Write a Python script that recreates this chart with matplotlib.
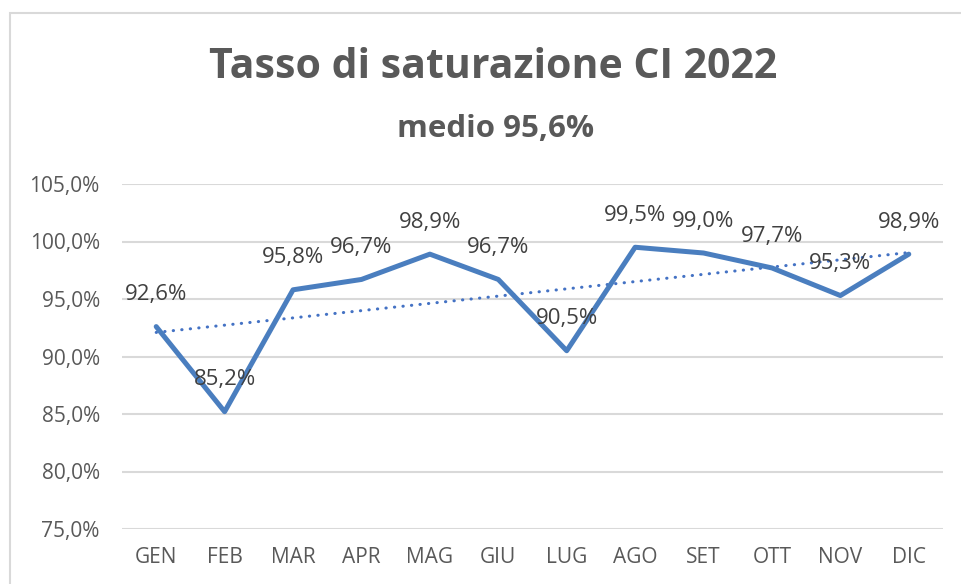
import matplotlib.pyplot as plt
from matplotlib.patches import Rectangle
from matplotlib.ticker import FuncFormatter, MultipleLocator
import numpy as np

months = ["GEN", "FEB", "MAR", "APR", "MAG", "GIU", "LUG", "AGO", "SET", "OTT", "NOV", "DIC"]
saturation = [92.6, 85.2, 95.8, 96.7, 98.9, 96.7, 90.5, 99.5, 99.0, 97.7, 95.3, 98.9]
title = "Tasso di saturazione CI 2022"
subtitle = "medio 95,6%"

plt.rcParams['font.family'] = ['Open Sans', 'DejaVu Sans']

W, H = 961, 584
fig = plt.figure(figsize=(W / 100, H / 100), dpi=100)
ax = fig.add_axes([122 / W, 1 - 529 / H, (943 - 122) / W, (529 - 184) / H])

x = np.arange(len(months))
y = np.array(saturation)

# linear trend line, as in the spreadsheet
k, b = np.polyfit(x, y, 1)
ax.plot(x, k * x + b, color='#4472C4', lw=2.2, linestyle=(0, (0.1, 2.7)),
        dash_capstyle='round', zorder=3)
ax.plot(x, y, color='#4A7EBF', lw=3.6, solid_joinstyle='round',
        solid_capstyle='round', zorder=4)

for xi, yi in zip(x, y):
    ax.annotate(f"{yi:.1f}%".replace('.', ','), (xi, yi), xytext=(0, 23),
                textcoords='offset points', ha='center', va='center',
                fontsize=16, color='#404040', zorder=5)

ax.set_xlim(-0.5, len(months) - 0.5)
ax.set_ylim(75, 105)
ax.yaxis.set_major_locator(MultipleLocator(5))
ax.yaxis.set_major_formatter(FuncFormatter(lambda v, p: f"{v:.1f}%".replace('.', ',')))
ax.set_xticks(x)
ax.set_xticklabels(months)
ax.tick_params(axis='both', length=0, labelsize=15, labelcolor='#595959')
ax.tick_params(axis='y', pad=16)
ax.tick_params(axis='x', pad=13)
ax.grid(axis='y', color='#D9D9D9', lw=1.5)
ax.set_axisbelow(True)
for s in ax.spines.values():
    s.set_visible(False)

fig.text(0.513, 1 - 68 / H, title, ha='center', va='center', fontsize=29.5,
         fontweight='bold', color='#595959')
fig.text(0.516, 1 - 129 / H, subtitle, ha='center', va='center', fontsize=22.5,
         fontweight='bold', color='#595959')

# chart border
fig.patches.append(Rectangle((10 / W, -0.1), 1.2, 1.1 - 13 / H, transform=fig.transFigure,
                             fill=False, edgecolor='#D9D9D9', lw=1.5))

fig.savefig('out.png', dpi=100)
